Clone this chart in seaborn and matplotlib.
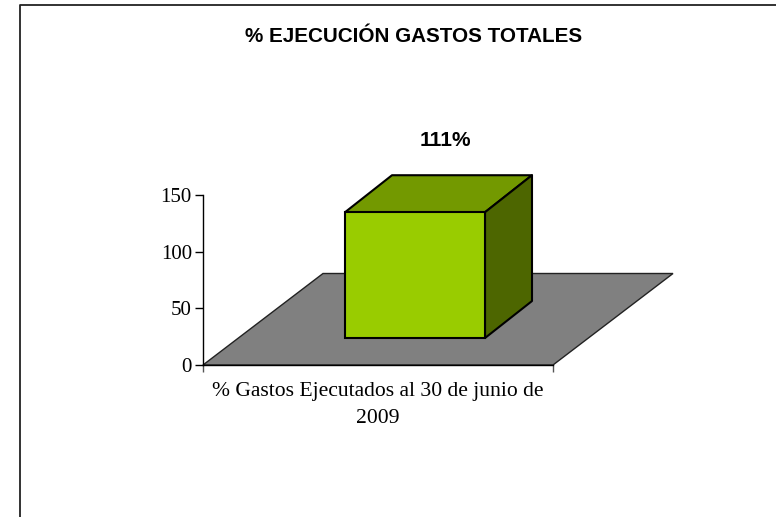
import matplotlib
matplotlib.use('Agg')
import matplotlib.pyplot as plt
from matplotlib.patches import Polygon
from matplotlib.lines import Line2D
import pandas as pd
import seaborn as sns

# Data
categories = ['% Gastos Ejecutados al 30 de junio de\n2009']
values = [111]
y_ticks = [0, 50, 100, 150]
title = '% EJECUCIÓN GASTOS TOTALES'
value_label = '111%'

sns.set_style('white')
plt.rcParams['font.family'] = ['Liberation Serif']
plt.rcParams['text.color'] = 'black'
plt.rcParams['xtick.labelcolor'] = 'black'
plt.rcParams['ytick.labelcolor'] = 'black'

W, H = 776, 517
fig = plt.figure(figsize=(W / 100, H / 100), dpi=100)

# outer frame, only top and left are visible in the picture
fig.add_artist(Line2D([20 / W, 20 / W, 1], [0, 1 - 5 / H, 1 - 5 / H], color='#222222', lw=1.3))

ax = fig.add_axes([203 / W, 1 - 365 / H, 350 / W, 170 / H])
df = pd.DataFrame({'cat': categories, 'val': values})

# bar sits inside the floor, so lift it up a bit
base = 23.8
sns.barplot(data=df, x='cat', y='val', color='#99CC00', saturation=1, width=0.4,
            edgecolor='black', linewidth=1.5, bottom=base, ax=ax, zorder=3)

bar = ax.patches[0]
x0, x1 = bar.get_x(), bar.get_x() + bar.get_width()
y0, y1 = bar.get_y(), bar.get_y() + bar.get_height()

# limits: 1 x unit = 350 px, bar centre at px 415
left = -(415 - 203) / 350
ax.set_xlim(left, left + 1)
ax.set_ylim(0, 150)

# depth of the fake 3D box and floor
dx, dy = 47 / 350, 37 * 150 / 170
fx, fy = 120 / 350, 91.5 * 150 / 170

floor = Polygon([(left, 0), (left + 1, 0), (left + 1 + fx, fy), (left + fx, fy)],
                facecolor='#808080', edgecolor='#222222', lw=1, clip_on=False, zorder=1)
top = Polygon([(x0, y1), (x1, y1), (x1 + dx, y1 + dy), (x0 + dx, y1 + dy)],
              facecolor='#739900', edgecolor='black', lw=1.5, clip_on=False, zorder=2,
              joinstyle='round')
side = Polygon([(x1, y0), (x1 + dx, y0 + dy), (x1 + dx, y1 + dy), (x1, y1)],
               facecolor='#4D6600', edgecolor='black', lw=1.5, clip_on=False, zorder=2,
               joinstyle='round')
ax.add_patch(floor)
ax.add_patch(top)
ax.add_patch(side)

# axes look
sns.despine(ax=ax, top=True, right=True)
for s in ['left', 'bottom']:
    ax.spines[s].set_linewidth(1)
    ax.spines[s].set_color('black')
    ax.spines[s].set_zorder(5)
ax.set_yticks(y_ticks)
ax.tick_params(axis='y', left=True, length=6, width=1, labelsize=15, pad=2, color='black')
ax.set_xticks([left + 0.5])
ax.set_xticklabels(categories, fontsize=15.6, linespacing=1.63)
ax.set_xticks([left, left + 1], minor=True)
ax.tick_params(axis='x', which='major', length=0, pad=12)
ax.tick_params(axis='x', which='minor', bottom=True, length=5, width=1, color='#555555')
ax.set_xlabel('')
ax.set_ylabel('')
ax.patch.set_alpha(0)

# value over the box
ax.annotate(value_label, xy=((x0 + x1) / 2 + dx / 2 + 0.02, y1 + dy), xytext=(0, 25),
            textcoords='offset points', ha='center', va='center', annotation_clip=False,
            fontsize=15, fontweight='bold', family='Liberation Sans')

fig.text(414 / W, 1 - 36 / H, title, ha='center', va='center',
         fontsize=14.9, fontweight='bold', family='Liberation Sans')

fig.savefig('out.png', dpi=100)
